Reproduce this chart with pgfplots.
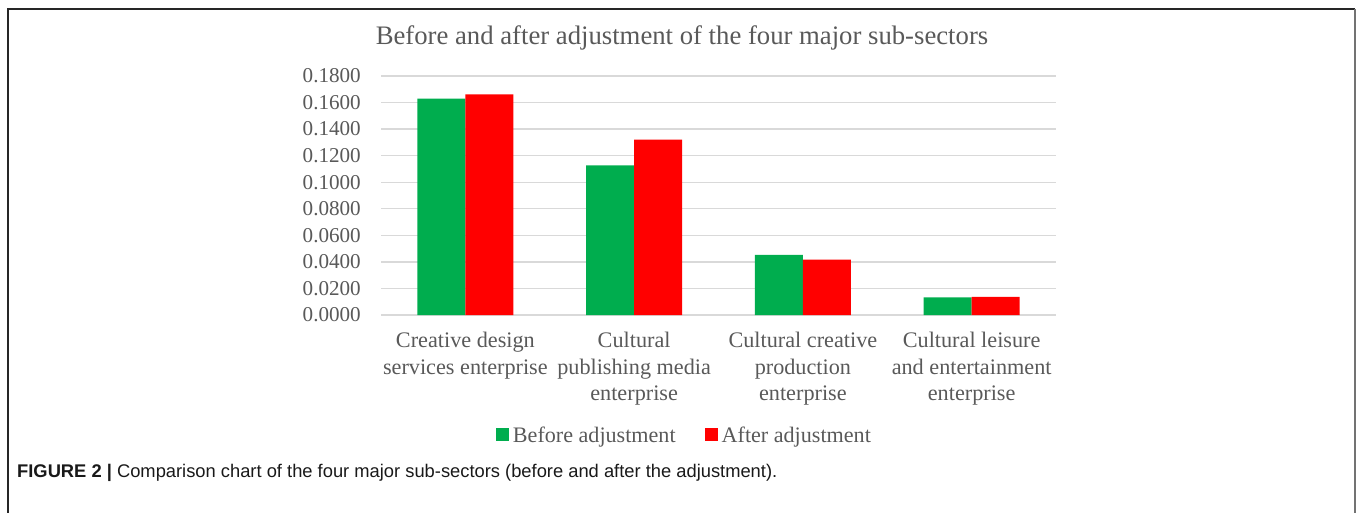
\documentclass[border=0pt]{standalone}
\usepackage{fontspec}
\setmainfont{Liberation Serif}
\setsansfont{Liberation Sans}
\usepackage{pgfplots}
\pgfplotsset{compat=1.18}
\definecolor{cgreen}{HTML}{00AD4E}
\definecolor{cred}{HTML}{FF0000}
\definecolor{ctext}{HTML}{595959}
\definecolor{cgrid}{HTML}{D9D9D9}
\begin{document}
\begin{tikzpicture}[x=1bp,y=1bp]
\useasboundingbox (0,0) rectangle (1357,-513);
\draw[line width=1.5bp, black!85] (1355,-9) -- (8,-9) -- (8,-530);
\draw[line width=2bp, black!55] (1355,-9) -- (1355,-530);
\begin{axis}[
  at={(381bp,-315bp)}, anchor=south west,
  scale only axis, width=675bp, height=239bp,
  xmin=-0.5, xmax=3.5, ymin=0, ymax=0.18,
  ybar=0pt, bar width=48bp,
  axis line style={draw=none},
  major tick length=0pt,
  ymajorgrids, major grid style={color=cgrid, line width=1.4bp},
  ytick={0,0.02,...,0.181},
  /pgf/number format/assume math mode=true,
  yticklabel={\pgfmathprintnumber[fixed,fixed zerofill,precision=4]{\tick}},
  yticklabel style={font=\fontsize{21.2}{24}\selectfont, text=ctext, anchor=east, inner sep=0pt, xshift=-20bp},
  xtick={0,1,2,3},
  xticklabels={{Creative design\\services enterprise},{Cultural\\publishing media\\enterprise},{Cultural creative\\production\\enterprise},{Cultural leisure\\and entertainment\\enterprise}},
  xticklabel style={font=\fontsize{22.3}{26.5}\selectfont, text=ctext, align=center, anchor=north, inner sep=0pt, yshift=-17bp},
  legend style={draw=none, fill=none, at={(0.451,-0.502)}, anchor=center, legend columns=2,
    font=\fontsize{22.2}{24}\selectfont, text=ctext,
    /tikz/every even column/.append style={column sep=25bp}, inner sep=0pt,
    nodes={inner xsep=4bp}},
  legend image code/.code={\fill[#1] (0bp,-6.5bp) rectangle (13bp,6.5bp);},
]
\addplot[fill=cgreen, draw=none] coordinates {(0,0.1629) (1,0.1127) (2,0.0452) (3,0.0133)};
\addplot[fill=cred, draw=none] coordinates {(0,0.1662) (1,0.1320) (2,0.0417) (3,0.0136)};
\legend{Before adjustment, After adjustment}
\end{axis}
\node[text=ctext, font=\fontsize{26.8}{30}\selectfont] at (682,-38) {Before and after adjustment of the four major sub-sectors};
\node[anchor=base west, inner sep=0pt, font=\sffamily\fontsize{18.4}{22}\selectfont, text=black!90] at (17,-477) {\textbf{FIGURE 2 |} Comparison chart of the four major sub-sectors (before and after the adjustment).};
\end{tikzpicture}
\end{document}
